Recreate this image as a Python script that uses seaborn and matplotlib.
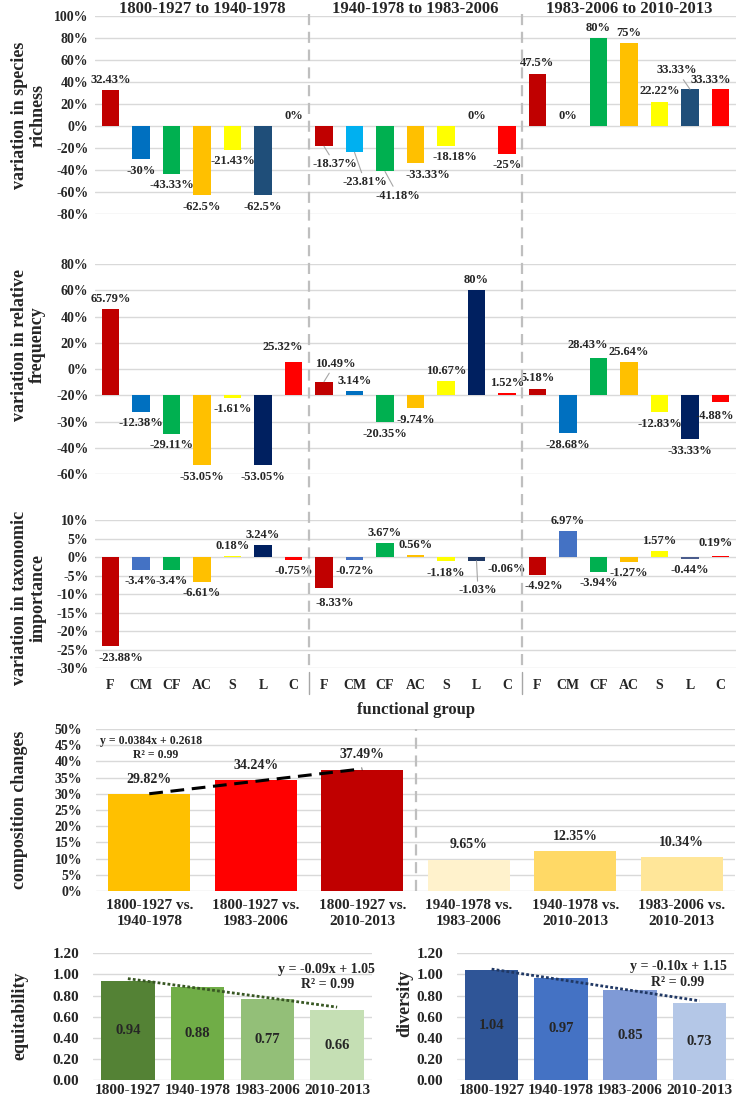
import numpy as np
import pandas as pd
import seaborn as sns
import matplotlib.pyplot as plt
from matplotlib.lines import Line2D

# ---- data ----
groups = ['F', 'CM', 'CF', 'AC', 'S', 'L', 'C']
periods = ['1800-1927 to 1940-1978', '1940-1978 to 1983-2006', '1983-2006 to 2010-2013']

richness = [32.43, -30, -43.33, -62.5, -21.43, -62.5, 0,
            -18.37, -23.81, -41.18, -33.33, -18.18, 0, -25,
            47.5, 0, 80, 75, 22.22, 33.33, 33.33]
frequency = [65.79, -12.38, -29.11, -53.05, -1.61, -53.05, 25.32,
             10.49, 3.14, -20.35, -9.74, 10.67, 80, 1.52,
             5.18, -28.68, 28.43, 25.64, -12.83, -33.33, -4.88]
taxonomic = [-23.88, -3.4, -3.4, -6.61, 0.18, 3.24, -0.75,
             -8.33, -0.72, 3.67, 0.56, -1.18, -1.03, -0.06,
             -4.92, 6.97, -3.94, -1.27, 1.57, -0.44, 0.19]

# the relative frequency axis in the original is labelled with an offset
freq_ticks = [100, 80, 60, 40, 20, 0, -20, -40, -60]
freq_tick_labels = ['80%', '60%', '40%', '20%', '0%', '-20%', '-30%', '-40%', '-60%']

comp_labels = ['1800-1927 vs.\n1940-1978', '1800-1927 vs.\n1983-2006', '1800-1927 vs.\n2010-2013',
               '1940-1978 vs.\n1983-2006', '1940-1978 vs.\n2010-2013', '1983-2006 vs.\n2010-2013']
comp_values = [29.82, 34.24, 37.49, 9.65, 12.35, 10.34]
comp_fit = (0.0384, 0.2618)

eras = ['1800-1927', '1940-1978', '1983-2006', '2010-2013']
equitability = [0.94, 0.88, 0.77, 0.66]
equit_fit = (-0.09, 1.05)
diversity = [1.04, 0.97, 0.85, 0.73]
div_fit = (-0.10, 1.15)

# ---- colours ----
base = ['#C00000', '#0070C0', '#00B050', '#FFC000', '#FFFF00', '#1F4E79', '#FF0000']
rich_colors = base + ['#C00000', '#00B0F0', '#00B050', '#FFC000', '#FFFF00', '#1F4E79', '#FF0000'] + base
freq_colors = ['#C00000', '#0070C0', '#00B050', '#FFC000', '#FFFF00', '#002060', '#FF0000'] * 3
tax_colors = (['#C00000', '#4472C4', '#00B050', '#FFC000', '#FFFF00', '#002060', '#FF0000'] +
              ['#C00000', '#4472C4', '#00B050', '#FFC000', '#FFFF00', '#1F3864', '#FF0000'] +
              ['#C00000', '#4472C4', '#00B050', '#FFC000', '#FFFF00', '#4A5C8C', '#FF0000'])
comp_colors = ['#FFC000', '#FF0000', '#C00000', '#FFF2CC', '#FFD966', '#FFE699']
green_colors = ['#548235', '#70AD47', '#93BF78', '#C5DFB4']
blue_colors = ['#2F5597', '#4472C4', '#7F9AD6', '#B4C7E7']

# label placement tweaks (x index, y value, leader line)
rich_label_pos = {7: (7.36, -34.5, True), 8: (8.34, -50.7, True), 9: (9.43, -63, True),
                  10: (10.41, -44, False), 11: (11.3, -28.5, False),
                  19: (18.57, 50.4, True), 20: (19.69, 41.4, False)}
freq_label_pos = {6: (5.66, 37, False), 7: (7.36, 24, True), 16: (15.66, 38, False),
                  20: (19.82, -15.7, False)}
tax_label_pos = {0: (0.34, -27.2, False), 7: (7.36, -12.3, False), 12: (12.05, -9, True),
                 14: (14.2, -7.9, False), 20: (19.85, 3.9, False)}

sns.set_style('white')
plt.rcParams['font.family'] = ['Liberation Serif', 'DejaVu Serif']
plt.rcParams['font.weight'] = 'bold'
plt.rcParams['axes.labelweight'] = 'bold'

W, H = 737, 1105
fig = plt.figure(figsize=(W / 100, H / 100), dpi=100)


def rect(l, t, r, b):
    return [l / W, 1 - b / H, (r - l) / W, (b - t) / H]


def style_axis(ax, ysize=10, ypad=5):
    for s in ax.spines.values():
        s.set_visible(False)
    ax.yaxis.grid(True, color='#D9D9D9', lw=1.0)
    ax.set_axisbelow(True)
    ax.tick_params(length=0, labelsize=ysize)
    ax.tick_params(axis='y', pad=ypad)
    ax.set_xlabel('')
    ax.set_ylabel('')


keys = [f'{p}|{g}' for p in periods for g in groups]


def group_panel(ax, values, colors, label_pos):
    df = pd.DataFrame({'key': keys, 'value': values})
    sns.barplot(data=df, x='key', y='value', hue='key', order=keys, hue_order=keys,
                palette=colors, saturation=1, width=0.56, errorbar=None,
                legend=False, linewidth=0, ax=ax)
    ax.set_xlim(-0.5, len(keys) - 0.5)
    style_axis(ax)
    for i, v in enumerate(values):
        txt = f'{v:g}%'
        if i in label_pos:
            lx, ly, leader = label_pos[i]
            if leader:
                ax.annotate(txt, xy=(i, v), xytext=(lx, ly), textcoords='data',
                            ha='center', va='center', fontsize=9,
                            arrowprops=dict(arrowstyle='-', color='#A6A6A6', lw=0.8,
                                            shrinkA=0, shrinkB=0))
            else:
                ax.text(lx, ly, txt, ha='center', va='center', fontsize=9)
        elif v >= 0:
            ax.annotate(txt, (i, v), xytext=(0, 3), textcoords='offset points',
                        ha='center', va='bottom', fontsize=9)
        else:
            ax.annotate(txt, (i, v), xytext=(0, -4), textcoords='offset points',
                        ha='center', va='top', fontsize=9)


# species richness
ax1 = fig.add_axes(rect(95.25, 15.7, 735.75, 214.3))
group_panel(ax1, richness, rich_colors, rich_label_pos)
ax1.set_ylim(-80, 100)
ax1.set_yticks(np.arange(-80, 101, 20))
ax1.set_yticklabels([f'{t}%' for t in range(-80, 101, 20)])
ax1.set_xticks([])

# relative frequency
ax2 = fig.add_axes(rect(95.25, 264, 735.75, 474.3))
group_panel(ax2, frequency, freq_colors, freq_label_pos)
ax2.set_ylim(-60, 100)
ax2.set_yticks(freq_ticks)
ax2.set_yticklabels(freq_tick_labels)
ax2.set_xticks([])

# taxonomic importance
ax3 = fig.add_axes(rect(95.25, 520, 735.75, 668.3))
group_panel(ax3, taxonomic, tax_colors, tax_label_pos)
ax3.set_ylim(-30, 10)
ax3.set_yticks(np.arange(-30, 11, 5))
ax3.set_yticklabels([f'{t}%' for t in range(-30, 11, 5)])
ax3.set_xticks(range(len(keys)))
ax3.set_xticklabels(groups * 3, fontsize=10)
ax3.tick_params(axis='x', pad=8)

# panel titles and separators
for k, p in enumerate(periods):
    cx = 95.25 + (k + 0.5) * 7 * 30.5
    fig.text(cx / W, 1 - 9 / H, p, ha='center', va='center', fontsize=12)
for k in (1, 2):
    sx = (95.25 + k * 7 * 30.5) / W
    fig.add_artist(Line2D([sx, sx], [1 - 14 / H, 1 - 668 / H], transform=fig.transFigure,
                          color='#BFBFBF', lw=1.6, dashes=(5, 3)))
    fig.add_artist(Line2D([sx, sx], [1 - 672 / H, 1 - 694 / H], transform=fig.transFigure,
                          color='#A6A6A6', lw=1.0))

fig.text(28.5 / W, 1 - 115 / H, 'variation in species\nrichness', rotation=90,
         ha='center', va='center', fontsize=13, linespacing=1.1)
fig.text(28.5 / W, 1 - 345 / H, 'variation in relative\nfrequency', rotation=90,
         ha='center', va='center', fontsize=13, linespacing=1.1)
fig.text(28.5 / W, 1 - 598 / H, 'variation in taxonomic\nimportance', rotation=90,
         ha='center', va='center', fontsize=13, linespacing=1.1)
fig.text(415.5 / W, 1 - 710 / H, 'functional group', ha='center', va='center', fontsize=12)

# composition changes
ax4 = fig.add_axes(rect(96, 729, 735, 891))
cdf = pd.DataFrame({'pair': comp_labels, 'value': comp_values})
sns.barplot(data=cdf, x='pair', y='value', hue='pair', order=comp_labels, hue_order=comp_labels,
            palette=comp_colors, saturation=1, width=0.77, errorbar=None, legend=False,
            linewidth=0, ax=ax4)
style_axis(ax4, ysize=10, ypad=10)
ax4.set_ylim(0, 50)
ax4.set_xlim(-0.5, len(comp_labels) - 0.5)
ax4.set_yticks(np.arange(0, 51, 5))
ax4.set_yticklabels([f'{t}%' for t in range(0, 51, 5)])
ax4.tick_params(axis='x', labelsize=11, pad=6)
for lab in ax4.get_xticklabels():
    lab.set_linespacing(1.3)
for i, v in enumerate(comp_values):
    ax4.annotate(f'{v:.2f}%', (i, v), xytext=(0, 6), textcoords='offset points',
                 ha='center', va='bottom', fontsize=10)
tx = np.arange(3)
ax4.plot(tx, (comp_fit[0] * (tx + 1) + comp_fit[1]) * 100, color='black', lw=2.2,
         dashes=(4.5, 2.5))
ax4.axvline(2.5, color='#BFBFBF', lw=1.6, dashes=(5, 3))
ax4.text(0.086, 0.926, f'y = {comp_fit[0]}x + {comp_fit[1]}', transform=ax4.transAxes,
         ha='center', va='center', fontsize=8.5)
ax4.text(0.094, 0.84, 'R² = 0.99', transform=ax4.transAxes, ha='center', va='center', fontsize=8.5)
fig.text(20 / W, 1 - 810 / H, 'composition changes', rotation=90, ha='center', va='center',
         fontsize=13)


def era_panel(ax, values, colors, fit, line_color, eq_pos, r2_pos):
    edf = pd.DataFrame({'era': eras, 'value': values})
    sns.barplot(data=edf, x='era', y='value', hue='era', order=eras, hue_order=eras,
                palette=colors, saturation=1, width=0.77, errorbar=None, legend=False,
                linewidth=0, ax=ax)
    style_axis(ax, ysize=11, ypad=10)
    ax.set_ylim(0, 1.2)
    ax.set_xlim(-0.5, len(eras) - 0.5)
    ax.set_yticks(np.arange(0, 1.21, 0.2))
    ax.set_yticklabels([f'{t:.2f}' for t in np.arange(0, 1.21, 0.2)])
    ax.tick_params(axis='x', labelsize=11, pad=3)
    for i, v in enumerate(values):
        ax.text(i, v / 2, f'{v:.2f}', ha='center', va='center', fontsize=10.5)
    x = np.arange(len(values))
    ax.plot(x, fit[0] * (x + 1) + fit[1], color=line_color, lw=2.0, dashes=(1, 0.8))
    ax.text(eq_pos[0], eq_pos[1], f'y = {fit[0]:.2f}x + {fit[1]:.2f}', transform=ax.transAxes,
            ha='center', va='center', fontsize=10)
    ax.text(r2_pos[0], r2_pos[1], 'R² = 0.99', transform=ax.transAxes,
            ha='center', va='center', fontsize=10)


ax5 = fig.add_axes(rect(93, 953.3, 372, 1080))
era_panel(ax5, equitability, green_colors, equit_fit, '#385723', (0.835, 0.874), (0.842, 0.75))
fig.text(20 / W, 1 - 1016 / H, 'equitability', rotation=90, ha='center', va='center', fontsize=13)

ax6 = fig.add_axes(rect(457, 953.3, 734, 1080))
era_panel(ax6, diversity, blue_colors, div_fit, '#203864', (0.798, 0.892), (0.798, 0.773))
fig.text(405 / W, 1 - 1003 / H, 'diversity', rotation=90, ha='center', va='center', fontsize=13)

fig.savefig('out.png', dpi=100)
